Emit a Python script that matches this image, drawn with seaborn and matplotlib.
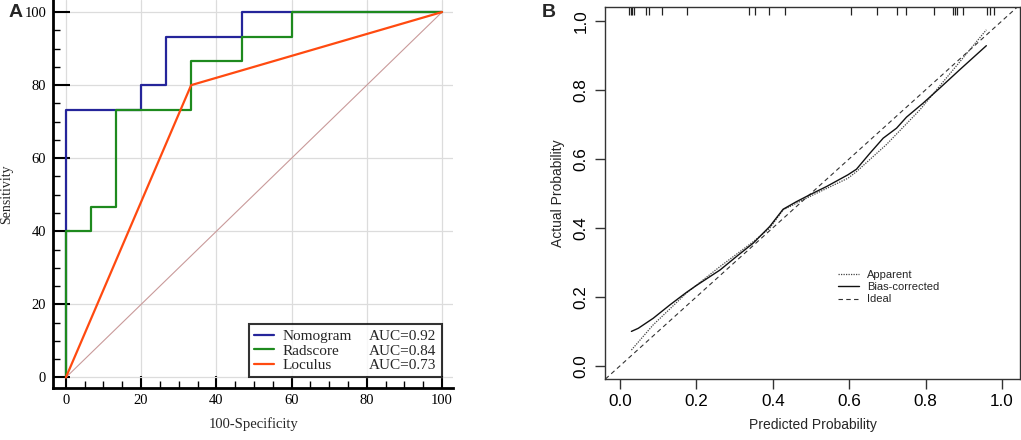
import numpy as np
import pandas as pd
import matplotlib
matplotlib.use("Agg")
import matplotlib.pyplot as plt
from matplotlib.ticker import MultipleLocator
from matplotlib.lines import Line2D
import seaborn as sns

# ROC curve vertices (100-Specificity, Sensitivity)
nomo_x = [0, 0, 20, 20, 26.7, 26.7, 46.7, 46.7, 100]
nomo_y = [0, 73.3, 73.3, 80, 80, 93.3, 93.3, 100, 100]
rad_x = [0, 0, 6.7, 6.7, 13.3, 13.3, 33.3, 33.3, 46.7, 46.7, 60, 60, 100]
rad_y = [0, 40, 40, 46.7, 46.7, 73.3, 73.3, 86.7, 86.7, 93.3, 93.3, 100, 100]
loc_x = [0, 33.3, 100]
loc_y = [0, 80, 100]
roc_names = ["Nomogram", "Radscore", "Loculus"]
roc_auc = ["AUC=0.92", "AUC=0.84", "AUC=0.73"]
roc_colors = ["#25259a", "#1e8a1e", "#ff4a10"]

# calibration curves
cal_pred = [0.03, 0.048, 0.087, 0.131, 0.174, 0.2, 0.262, 0.305, 0.349, 0.392,
            0.427, 0.462, 0.497, 0.541, 0.597, 0.619, 0.654, 0.689, 0.724,
            0.75, 0.793, 0.837, 0.889, 0.959]
bias_corr = [0.10, 0.109, 0.138, 0.177, 0.213, 0.233, 0.278, 0.317, 0.356, 0.404,
             0.454, 0.476, 0.496, 0.52, 0.554, 0.57, 0.616, 0.66, 0.689,
             0.721, 0.761, 0.805, 0.858, 0.928]
app_pred = [0.03, 0.087, 0.174, 0.262, 0.349, 0.392, 0.427, 0.497, 0.597, 0.619,
            0.697, 0.785, 0.872, 0.959]
apparent = [0.046, 0.119, 0.211, 0.288, 0.36, 0.399, 0.452, 0.491, 0.544, 0.563,
            0.641, 0.742, 0.858, 0.974]
rug = [0.024, 0.028, 0.032, 0.037, 0.067, 0.076, 0.109, 0.175, 0.338, 0.353,
       0.39, 0.432, 0.606, 0.674, 0.726, 0.748, 0.822, 0.873, 0.877, 0.881,
       0.897, 0.96, 0.969, 0.979]

sns.set_theme(style="white")
fig = plt.figure(figsize=(10.21, 4.4), dpi=100)

# ---------- panel A ----------
serif = ["Liberation Serif", "DejaVu Serif"]
ax = fig.add_axes([0.052, 0.118, 0.392, 0.882])
ax.grid(True, color="#dcdcdc", linewidth=0.9)
ax.set_axisbelow(True)
ax.plot([0, 100], [0, 100], color="#c99a9a", linewidth=0.8)
for xs, ys, c in zip([nomo_x, rad_x, loc_x], [nomo_y, rad_y, loc_y], roc_colors):
    d = pd.DataFrame({"x": xs, "y": ys})
    sns.lineplot(data=d, x="x", y="y", sort=False, estimator=None, color=c,
                 linewidth=1.6, ax=ax)
ax.set_xlim(-3.4, 103)
ax.set_ylim(-2.9, 103.3)
ax.xaxis.set_major_locator(MultipleLocator(20))
ax.xaxis.set_minor_locator(MultipleLocator(5))
ax.yaxis.set_major_locator(MultipleLocator(20))
ax.yaxis.set_minor_locator(MultipleLocator(5))
for s in ["top", "right"]:
    ax.spines[s].set_visible(False)
for s in ["left", "bottom"]:
    ax.spines[s].set_color("black")
    ax.spines[s].set_linewidth(2)
ax.tick_params(which="major", direction="in", length=9, width=1.5, colors="black",
               left=True, bottom=True, labelsize=10.5, pad=4)
ax.tick_params(which="minor", direction="in", length=5, width=1, colors="black",
               left=True, bottom=True)
ax.tick_params(axis="y", which="major", length=12, pad=5)
for lab in ax.get_xticklabels() + ax.get_yticklabels():
    lab.set_family(serif)
ax.set_xlabel("100-Specificity", family=serif, fontsize=10.5)
ax.set_ylabel("Sensitivity", family=serif, fontsize=10)
ax.xaxis.set_label_coords(0.5, -0.075)
ax.yaxis.set_label_coords(-0.1, 0.5)

handles = [Line2D([], [], color=c, linewidth=1.6) for c in roc_colors]
blank = [Line2D([], [], linestyle="none") for _ in roc_auc]
leg = ax.legend(handles + blank, roc_names + roc_auc, ncol=2, loc="lower right",
                bbox_to_anchor=(100, 0), bbox_transform=ax.transData,
                prop={"family": serif, "size": 11}, frameon=True, fancybox=False,
                edgecolor="black", handlelength=1.3, handletextpad=0.55,
                columnspacing=-0.7, labelspacing=0.05, borderpad=0.35,
                borderaxespad=0)
leg.get_frame().set_linewidth(1.5)
fig.text(0.008, 0.99, "A", fontsize=14, fontweight="bold", family="Liberation Sans",
         va="top")

# ---------- panel B ----------
sans = ["Liberation Sans", "DejaVu Sans"]
bx = fig.add_axes([0.5926, 0.1386, 0.4064, 0.8454])
bx.axline((0, 0), (1, 1), color="#333333", linestyle=(0, (4, 3)), linewidth=0.8)
da = pd.DataFrame({"x": app_pred, "y": apparent})
sns.lineplot(data=da, x="x", y="y", sort=False, estimator=None, color="#444444",
             linestyle=(0, (1, 1)), linewidth=0.9, ax=bx)
db = pd.DataFrame({"x": cal_pred, "y": bias_corr})
sns.lineplot(data=db, x="x", y="y", sort=False, estimator=None, color="#111111",
             linewidth=1.0, ax=bx)
bx.vlines(rug, 0.978, 1.0, transform=bx.get_xaxis_transform(), color="#222222",
          linewidth=0.9)
bx.set_xlim(-0.039, 1.047)
bx.set_ylim(-0.038, 1.04)
ticks = np.arange(0, 1.01, 0.2)
bx.set_xticks(ticks)
bx.set_yticks(ticks)
bx.set_xticklabels([f"{t:.1f}" for t in ticks], family=sans)
bx.set_yticklabels([f"{t:.1f}" for t in ticks], family=sans, rotation=90, va="center")
for s in bx.spines.values():
    s.set_color("#333333")
    s.set_linewidth(1.0)
bx.tick_params(direction="out", length=7, width=1, colors="#333333", labelsize=12.3,
               left=True, bottom=True, labelcolor="black")
bx.tick_params(axis="y", pad=5)
bx.set_xlabel("Predicted Probability", family=sans, fontsize=10, labelpad=7)
bx.set_ylabel("Actual Probability", family=sans, fontsize=10, labelpad=6)
lh = [Line2D([], [], color="#444444", linestyle=(0, (1, 1)), linewidth=0.9),
      Line2D([], [], color="#111111", linewidth=1.0),
      Line2D([], [], color="#333333", linestyle=(0, (4, 3)), linewidth=0.8)]
bx.legend(lh, ["Apparent", "Bias-corrected", "Ideal"], loc="upper left",
          bbox_to_anchor=(0.538, 0.32), frameon=False,
          prop={"family": sans, "size": 8}, handlelength=1.9, handletextpad=0.7,
          labelspacing=0.2)
fig.text(0.531, 0.99, "B", fontsize=14, fontweight="bold", family="Liberation Sans",
         va="top")

fig.savefig("out.png", dpi=100)
